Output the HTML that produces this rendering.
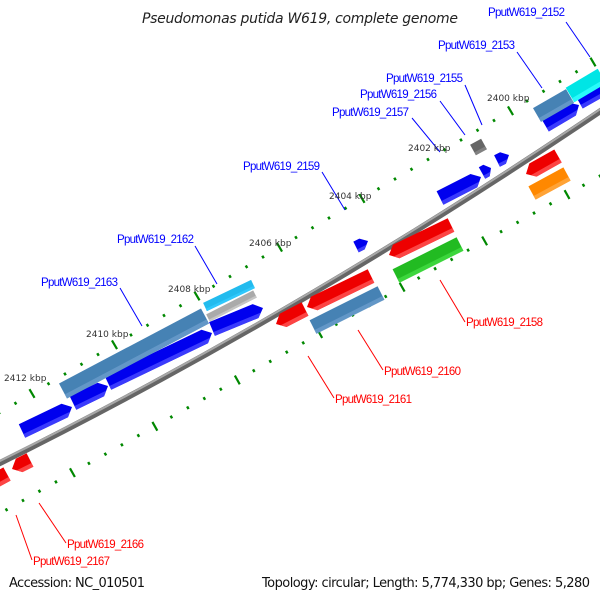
<!DOCTYPE html>
<html><head><meta charset="utf-8"><style>
html,body{margin:0;padding:0;background:#fff;}
svg{display:block;font-family:"DejaVu Sans","Liberation Sans",sans-serif;}
.b{fill:#0000ff;font-size:11.5px;font-family:"Liberation Sans",sans-serif;}
.r{fill:#ff0000;font-size:11.5px;font-family:"Liberation Sans",sans-serif;}
.k{fill:#333;font-size:9px;}
</style></head><body>
<svg id="s" width="600" height="600" viewBox="0 0 600 600" xmlns="http://www.w3.org/2000/svg">
<text x="142" y="23" font-style="italic" font-size="14" fill="#222" textLength="316">Pseudomonas putida W619, complete genome</text>
<g id="ticks"></g>
<path d="M-2 464 Q300 314 602 110" stroke="#666" stroke-width="6" fill="none"/>
<path d="M-2 462 Q300 312 602 108" stroke="#a8a8a8" stroke-width="2" fill="none"/>
<g id="feat"></g>
<g stroke-width="1">
<line x1="566" y1="22" x2="590" y2="57" stroke="#0000ff"/>
<line x1="517" y1="52" x2="542" y2="88" stroke="#0000ff"/>
<line x1="465" y1="85" x2="482" y2="125" stroke="#0000ff"/>
<line x1="440" y1="101" x2="465" y2="135" stroke="#0000ff"/>
<line x1="412" y1="118" x2="440" y2="152" stroke="#0000ff"/>
<line x1="322" y1="172" x2="345" y2="210" stroke="#0000ff"/>
<line x1="195" y1="246" x2="217" y2="284" stroke="#0000ff"/>
<line x1="120" y1="288" x2="142" y2="326" stroke="#0000ff"/>
<line x1="465" y1="322" x2="440" y2="280" stroke="#ff0000"/>
<line x1="383" y1="370" x2="358" y2="330" stroke="#ff0000"/>
<line x1="334" y1="398" x2="308" y2="356" stroke="#ff0000"/>
<line x1="66" y1="543" x2="39" y2="503" stroke="#ff0000"/>
<line x1="32" y1="560" x2="16" y2="515" stroke="#ff0000"/>
</g>
<text class="b" x="488" y="16" textLength="77">PputW619_2152</text>
<text class="b" x="438" y="49" textLength="77">PputW619_2153</text>
<text class="b" x="386" y="82" textLength="77">PputW619_2155</text>
<text class="b" x="360" y="98" textLength="77">PputW619_2156</text>
<text class="b" x="332" y="116" textLength="77">PputW619_2157</text>
<text class="b" x="243" y="170" textLength="77">PputW619_2159</text>
<text class="b" x="117" y="243" textLength="77">PputW619_2162</text>
<text class="b" x="41" y="286" textLength="77">PputW619_2163</text>
<text class="r" x="466" y="326" textLength="77">PputW619_2158</text>
<text class="r" x="384" y="375" textLength="77">PputW619_2160</text>
<text class="r" x="335" y="403" textLength="77">PputW619_2161</text>
<text class="r" x="67" y="548" textLength="77">PputW619_2166</text>
<text class="r" x="33" y="565" textLength="77">PputW619_2167</text>
<text class="k" x="4" y="381">2412 kbp</text>
<text class="k" x="86" y="337">2410 kbp</text>
<text class="k" x="168" y="292">2408 kbp</text>
<text class="k" x="249" y="246">2406 kbp</text>
<text class="k" x="329" y="199">2404 kbp</text>
<text class="k" x="408" y="151">2402 kbp</text>
<text class="k" x="487" y="101">2400 kbp</text>
<text x="9" y="587" font-size="13" fill="#111" textLength="136">Accession: NC_010501</text>
<text x="262" y="587" font-size="13" fill="#111" textLength="328">Topology: circular; Length: 5,774,330 bp; Genes: 5,280</text>
</svg>
<script>
var NS="http://www.w3.org/2000/svg";
function el(p,t,a){var e=document.createElementNS(NS,t);for(var k in a)e.setAttribute(k,a[k]);p.appendChild(e);return e;}
var T=document.getElementById('ticks');
function row(x0,y0,x1,y1,majors){
  var dx=x1-x0,dy=y1-y0,L=Math.hypot(dx,dy),ux=dx/L,uy=dy/L,nx=-uy,ny=ux;
  var n=Math.round((x1-x0)/16.5);
  for(var i=0;i<=n;i++){var t=i/n,x=x0+dx*t,y=y0+dy*t;
    var maj=majors.some(function(m){return Math.abs(m-x)<7;});
    var h=maj?5:1.5;
    el(T,'line',{x1:x-nx*h,y1:y-ny*h,x2:x+nx*h,y2:y+ny*h,stroke:'#008800','stroke-width':maj?2.2:2.4});}
}
row(-1,413,593,62,[31,113,195,277,357,436,515,593]);
row(-10,519,600,176,[-10,73,157,240,322,404,485,567]);
var F=document.getElementById('feat');
function feat(x1,y1,x2,y2,col,lt,arr,w){
  w=w||15;var dx=x2-x1,dy=y2-y1,L=Math.hypot(dx,dy),ux=dx/L,uy=dy/L,nx=-uy,ny=ux,h=w/2,a=Math.min(8,L*0.5);
  function P(s,t){return (x1+ux*s+nx*t).toFixed(1)+','+(y1+uy*s+ny*t).toFixed(1);}
  var pts;
  if(arr==1)pts=[P(0,-h),P(L-a,-h),P(L,0),P(L-a,h),P(0,h)];
  else if(arr==-1)pts=[P(a,-h),P(L,-h),P(L,h),P(a,h),P(0,0)];
  else pts=[P(0,-h),P(L,-h),P(L,h),P(0,h)];
  el(F,'polygon',{points:pts.join(' '),fill:col});
  var q;
  if(arr==1)q=[P(0,h*0.45),P(L-a*0.45,h*0.45),P(L-a,h),P(0,h)];
  else if(arr==-1)q=[P(a*0.45,h*0.45),P(L,h*0.45),P(L,h),P(a,h)];
  else q=[P(0,h*0.45),P(L,h*0.45),P(L,h),P(0,h)];
  el(F,'polygon',{points:q.join(' '),fill:lt,opacity:0.8});
}
var B='#0000ee',BL='#4a4aff',R='#ee0000',RL='#ff5555',S='#4682b4',SL='#6a9ccc';
feat(22,431,72,407,B,BL,1);
feat(73,403,108,386,B,BL,1);
feat(108,383,212,333,B,BL,1);
feat(212,329,263,308,B,BL,1);
feat(440,198,481,177,B,BL,1);
feat(482,173,491,168,B,BL,1,13);
feat(497,161,509,155,B,BL,1,13);
feat(545,125,579,105,B,BL,1);
feat(579,102,602,89,B,BL,0);
feat(356,247,368,241,B,BL,1,12);
feat(63,391,205,316,S,SL,0,17);
feat(205,307,253,284,'#22bbee','#33ccff',0,9);
feat(208,318,255,294,'#aaaaaa','#cccccc',0,8);
feat(537,115,570,96,S,SL,0,16);
feat(570,95,602,76,'#00e5e5','#33ffff',0,17);
feat(473,150,484,144,'#666','#888',0,12);
feat(-4,480,7,474,R,RL,0);
feat(12,469,30,460,R,RL,-1);
feat(276,324,305,309,R,RL,-1);
feat(307,307,371,276,R,RL,-1);
feat(389,255,451,225,R,RL,-1);
feat(526,174,558,156,R,RL,-1);
feat(313,327,381,293,S,SL,0);
feat(396,276,460,244,'#22bb22','#44dd44',0);
feat(532,193,567,174,'#ff8800','#ffaa44',0);
</script>
</body></html>
